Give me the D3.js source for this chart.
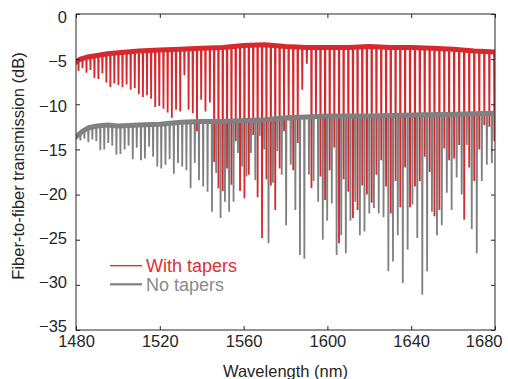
<!DOCTYPE html>
<html>
<head>
<meta charset="utf-8">
<script src="https://cdn.jsdelivr.net/npm/d3@7"></script>
<style>
  body { margin: 0; background: #fff; }
  svg text { font-family: "Liberation Sans", Arial, Helvetica, sans-serif; }
</style>
</head>
<body>
<div id="chart"></div>
<script>
const xTicks = [1480, 1520, 1560, 1600, 1640, 1680];
const yTicks = [0, -5, -10, -15, -20, -25, -30, -35];

// baseline (off-resonance) level of each trace, nm / dB
const redBaseNm = [1478, 1480, 1482, 1485, 1490, 1495, 1500, 1510, 1520, 1530, 1540, 1550, 1560, 1570, 1580, 1590, 1600, 1610, 1620, 1630, 1640, 1650, 1660, 1670, 1680, 1682];
const redBaseDb = [-5.6, -5.3, -5.0, -4.8, -4.6, -4.4, -4.3, -4.1, -4.0, -3.9, -3.8, -3.7, -3.5, -3.4, -3.6, -3.7, -3.7, -3.7, -3.6, -3.7, -3.7, -3.8, -3.9, -4.1, -4.2, -4.3];
const grayBaseNm = [1478, 1480, 1483, 1486, 1490, 1495, 1500, 1510, 1520, 1530, 1540, 1550, 1560, 1570, 1580, 1590, 1600, 1620, 1640, 1660, 1680, 1682];
const grayBaseDb = [-13.9, -13.6, -13.0, -12.6, -12.4, -12.3, -12.4, -12.3, -12.2, -12.0, -11.9, -11.9, -11.8, -11.7, -11.5, -11.4, -11.3, -11.3, -11.2, -11.1, -11.0, -11.0];

// resonance dips: [wavelength nm, minimum dB]
const redDips = [
  [1481.2, -6.3], [1483.1, -6.0], [1485.0, -6.5], [1486.9, -6.2], [1488.8, -7.1],
  [1490.7, -7.2], [1492.6, -6.6], [1494.5, -7.6], [1496.4, -8.1], [1498.3, -7.7],
  [1500.25, -7.9], [1502.2, -8.1], [1504.15, -7.8], [1506.1, -8.4], [1508.05, -8.2],
  [1510.0, -8.9], [1511.95, -9.2], [1513.9, -9.0], [1515.85, -9.4], [1517.8, -10.3],
  [1519.75, -10.2], [1521.75, -10.5], [1523.75, -10.9], [1525.75, -11.5], [1527.75, -10.6],
  [1529.75, -10.8], [1531.75, -6.8], [1533.75, -10.6], [1535.75, -11.0], [1537.75, -13.0],
  [1539.75, -9.5], [1541.8, -10.8], [1543.9, -9.8], [1545.95, -16.4], [1548.0, -19.3],
  [1550.05, -19.6], [1552.1, -17.1], [1554.2, -18.9], [1556.25, -14.1], [1558.3, -19.6],
  [1560.4, -20.4], [1562.5, -17.8], [1564.6, -13.4], [1566.7, -20.3], [1568.8, -24.8],
  [1570.9, -18.3], [1573.0, -19.0], [1575.1, -21.7], [1577.2, -17.1], [1579.3, -13.0],
  [1581.5, -11.8], [1583.7, -17.3], [1585.85, -14.3], [1588.0, -8.4], [1590.2, -5.5],
  [1592.4, -19.3], [1594.55, -11.6], [1596.7, -18.0], [1598.9, -20.6], [1601.1, -17.3],
  [1603.3, -14.8], [1605.55, -25.4], [1607.75, -18.3], [1610.0, -19.7], [1612.2, -22.6],
  [1614.4, -21.7], [1616.65, -19.0], [1618.85, -20.0], [1621.15, -20.9], [1623.4, -17.8],
  [1625.7, -16.2], [1628.0, -19.1], [1630.25, -22.1], [1632.55, -18.5], [1634.8, -21.4],
  [1637.1, -17.0], [1639.45, -21.4], [1641.8, -19.1], [1644.1, -18.5], [1646.45, -15.8],
  [1648.8, -17.5], [1651.1, -22.4], [1653.45, -21.7], [1655.8, -14.9], [1658.1, -16.2],
  [1660.5, -16.0], [1662.9, -14.5], [1665.3, -22.8], [1667.7, -17.0], [1670.1, -18.5],
  [1672.5, -15.0], [1674.9, -12.3], [1677.3, -12.5], [1679.7, -14.1]
];
const grayDips = [
  [1482.1, -14.0], [1484.0, -13.8], [1485.9, -14.2], [1487.8, -13.9], [1489.7, -14.1],
  [1491.6, -15.1], [1493.5, -15.0], [1495.4, -14.3], [1497.3, -14.6], [1499.3, -15.6],
  [1501.2, -15.5], [1503.2, -15.0], [1505.1, -14.6], [1507.1, -16.1], [1509.0, -14.8],
  [1511.0, -16.2], [1512.9, -16.0], [1514.9, -14.7], [1516.8, -15.8], [1518.8, -16.9],
  [1520.7, -17.1], [1522.7, -16.7], [1524.7, -16.1], [1526.7, -17.7], [1528.7, -16.5],
  [1530.7, -16.9], [1532.7, -17.3], [1534.7, -19.3], [1536.7, -16.5], [1538.7, -18.4],
  [1540.7, -19.1], [1542.8, -19.7], [1544.9, -21.9], [1546.9, -17.6], [1549.0, -22.6],
  [1551.1, -20.8], [1553.1, -21.9], [1555.2, -20.8], [1557.3, -15.4], [1559.3, -16.9],
  [1561.4, -18.0], [1563.5, -15.4], [1565.6, -18.4], [1567.7, -13.5], [1569.8, -15.0],
  [1571.9, -25.4], [1574.0, -18.7], [1576.1, -15.2], [1578.2, -17.8], [1580.3, -23.4],
  [1582.5, -16.7], [1584.7, -21.7], [1586.9, -26.7], [1589.0, -27.1], [1591.2, -17.8],
  [1593.4, -18.5], [1595.6, -20.8], [1597.8, -25.0], [1599.9, -22.9], [1602.1, -21.0],
  [1604.4, -26.7], [1606.6, -24.5], [1608.8, -26.5], [1611.0, -22.9], [1613.3, -20.8],
  [1615.5, -24.5], [1617.7, -24.1], [1620.0, -22.1], [1622.2, -21.5], [1624.5, -22.1],
  [1626.8, -22.5], [1629.1, -28.5], [1631.3, -27.4], [1633.6, -24.5], [1636.0, -29.8],
  [1638.3, -26.1], [1640.6, -21.1], [1642.9, -24.8], [1645.3, -31.1], [1647.6, -28.5],
  [1649.9, -21.9], [1652.3, -24.5], [1654.6, -23.4], [1657.0, -19.8], [1659.3, -21.7],
  [1661.7, -18.1], [1664.1, -20.0], [1666.5, -14.5], [1668.9, -23.8], [1671.3, -26.5],
  [1673.7, -18.5], [1676.1, -16.7], [1678.5, -16.5]
];

const series = [
  { name: 'With tapers', color: '#d7282d', text: '#dc2f35', baseNm: redBaseNm, baseDb: redBaseDb, dips: redDips, bandW: 5, legendW: 1.3 },
  { name: 'No tapers', color: '#808081', text: '#8a8a8b', baseNm: grayBaseNm, baseDb: grayBaseDb, dips: grayDips, bandW: 5, legendW: 2.2 }
];

const width = 508, height = 379;
const plotLeft = 76, plotRight = 495, plotTop = 14, plotBottom = 330;
const axisColor = '#262626';

const svg = d3.select('#chart')
  .append('svg')
  .attr('width', width)
  .attr('height', height);

const x = d3.scaleLinear().domain([1480, 1680]).range([plotLeft, plotRight]);
const y = d3.scaleLinear().domain([-35, 0]).range([plotBottom, plotTop]);

svg.append('defs').append('clipPath').attr('id', 'plotclip')
  .append('rect')
  .attr('x', plotLeft).attr('y', plotTop)
  .attr('width', plotRight - plotLeft).attr('height', plotBottom - plotTop);

const plot = svg.append('g').attr('clip-path', 'url(#plotclip)');

const line = d3.line().x(d => x(d[0])).y(d => y(d[1]));

series.forEach(s => {
  const base = d3.scaleLinear().domain(s.baseNm).range(s.baseDb);
  const g = plot.append('g');

  // resonance dips as narrow spikes from the baseline
  g.selectAll('path.dip')
    .data(s.dips)
    .enter().append('path')
    .attr('class', 'dip')
    .attr('d', d => line([[d[0] - 0.15, base(d[0] - 0.15)], [d[0], d[1]], [d[0] + 0.15, base(d[0] + 0.15)]]))
    .style('fill', 'none')
    .style('stroke', s.color)
    .style('stroke-width', '1.8px');

  // baseline band
  g.append('path')
    .datum(s.baseNm.map((nm, i) => [nm, s.baseDb[i]]))
    .attr('d', line)
    .style('fill', 'none')
    .style('stroke', s.color)
    .style('stroke-width', s.bandW + 'px')
    .style('stroke-linejoin', 'round');
});

// axes, ticks inside on all four sides
const fontSize = '16.5px';
const midY = (plotTop + plotBottom) / 2;

const xAxisG = svg.append('g')
  .attr('transform', `translate(0, ${plotBottom})`)
  .call(d3.axisBottom(x).tickValues(xTicks).tickSize(-4).tickPadding(5).tickFormat(d3.format('d')));
// last label sits inside the figure edge
xAxisG.selectAll('.tick text').filter(d => d === 1680)
  .attr('text-anchor', 'end').attr('x', 7);

const yAxisG = svg.append('g')
  .attr('transform', `translate(${plotLeft}, 0)`)
  .call(d3.axisLeft(y).tickValues(yTicks).tickSize(-4).tickPadding(9).tickFormat(d3.format('d')));
// labels are packed slightly tighter than the ticks
yAxisG.selectAll('.tick text').attr('y', d => (midY - y(d)) * 0.022);

svg.append('g')
  .attr('transform', `translate(0, ${plotTop})`)
  .call(d3.axisTop(x).tickValues(xTicks).tickSize(-4).tickFormat(''));

svg.append('g')
  .attr('transform', `translate(${plotRight}, 0)`)
  .call(d3.axisRight(y).tickValues(yTicks).tickSize(-4).tickFormat(''));

svg.selectAll('.domain').remove();
svg.selectAll('.tick line').style('stroke', axisColor);
svg.selectAll('.tick text').style('font-size', fontSize).style('fill', axisColor);

svg.append('rect')
  .attr('x', plotLeft).attr('y', plotTop)
  .attr('width', plotRight - plotLeft).attr('height', plotBottom - plotTop)
  .style('fill', 'none')
  .style('stroke', axisColor)
  .style('stroke-width', '1px');

// titles
svg.append('text')
  .attr('x', (plotLeft + plotRight) / 2)
  .attr('y', 377)
  .attr('text-anchor', 'middle')
  .style('font-size', fontSize)
  .style('fill', axisColor)
  .text('Wavelength (nm)');

svg.append('text')
  .attr('transform', 'translate(24, 166) rotate(-90)')
  .attr('text-anchor', 'middle')
  .style('font-size', fontSize)
  .style('fill', axisColor)
  .text('Fiber-to-fiber transmission (dB)');

// legend
const legend = svg.append('g');
series.forEach((s, i) => {
  const ly = 265.7 + i * 18.6;
  legend.append('line')
    .attr('x1', 110).attr('x2', 142)
    .attr('y1', ly).attr('y2', ly)
    .style('stroke', s.color)
    .style('stroke-width', s.legendW + 'px');
  legend.append('text')
    .attr('x', 146)
    .attr('y', ly + 6.2)
    .style('font-size', '18px')
    .style('fill', s.text)
    .text(s.name);
});
</script>
</body>
</html>
